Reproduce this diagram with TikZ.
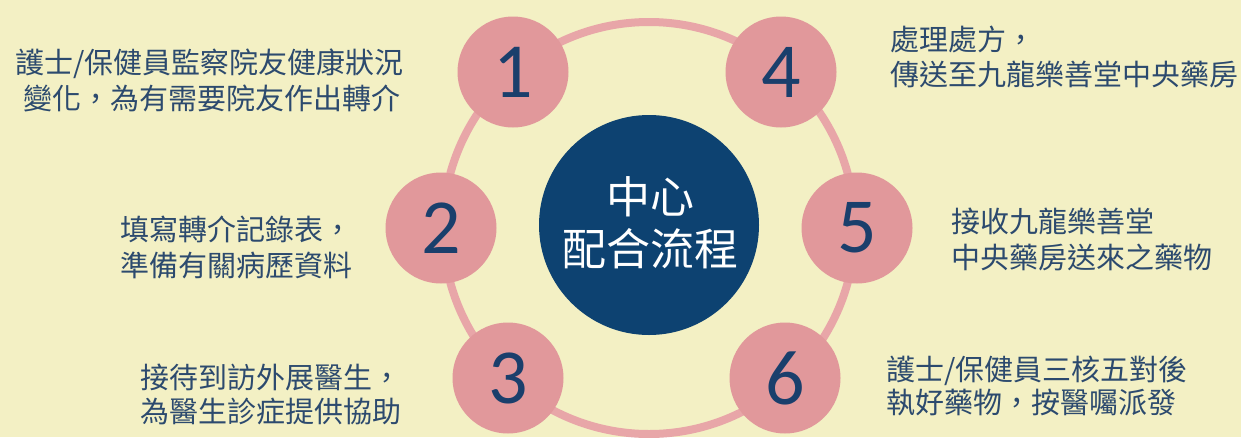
\documentclass[tikz,border=0pt]{standalone}
\usepackage{fontspec}
\newfontfamily\cjk{Noto Sans CJK TC}
\newfontfamily\numfont{Carlito}
\definecolor{bgc}{HTML}{F3F0C4}
\definecolor{pinkc}{HTML}{E1989B}
\definecolor{ringc}{HTML}{E8A6A8}
\definecolor{navyc}{HTML}{0D4271}
\definecolor{txtc}{HTML}{2C4A6E}
\definecolor{numc}{HTML}{1A3F6C}
\tikzset{
  stepcirc/.style={circle,fill=pinkc,minimum size=111pt,inner sep=0pt,text=numc,font=\numfont\fontsize{78}{80}\selectfont},
  centercirc/.style={circle,fill=navyc,minimum size=220pt,inner sep=0pt},
  ctext/.style={anchor=base,text=white,inner sep=0pt,font=\cjk\fontsize{44}{50}\selectfont},
  btext/.style={anchor=base west,text=txtc,inner sep=0pt,font=\cjk\fontsize{29}{36}\selectfont}
}
\begin{document}
\begin{tikzpicture}[x=1pt,y=-1pt]
\fill[bgc] (0,0) rectangle (1241,437);
\useasboundingbox (0,0) rectangle (1241,437);
\coordinate (o) at (649,228);
\draw[ringc,line width=8pt] (o) circle (206pt);
\node[centercirc] (c) at (649,225) {};
\node[ctext] (c1) at (650,213) {中心};
\node[ctext] (c2) at (650,265) {配合流程};
\node[stepcirc] (n1) at (513,72) {1};
\node[stepcirc] (n4) at (781,72) {4};
\node[stepcirc] (n2) at (441,228) {2};
\node[stepcirc] (n5) at (857,228) {5};
\node[stepcirc] (n3) at (508,378) {3};
\node[stepcirc] (n6) at (785,378) {6};
\node[btext] (t1a) at (15,73) {護士/保健員監察院友健康狀況};
\node[btext] (t1b) at (23,109) {變化，為有需要院友作出轉介};
\node[btext] (t4a) at (890,50) {處理處方，};
\node[btext] (t4b) at (890,85) {傳送至九龍樂善堂中央藥房};
\node[btext] (t2a) at (120,240) {填寫轉介記錄表，};
\node[btext] (t2b) at (120,276) {準備有關病歷資料};
\node[btext] (t5a) at (951,232) {接收九龍樂善堂};
\node[btext] (t5b) at (951,268) {中央藥房送來之藥物};
\node[btext] (t3a) at (140,388) {接待到訪外展醫生，};
\node[btext] (t3b) at (140,422) {為醫生診症提供協助};
\node[btext] (t6a) at (886,380) {護士/保健員三核五對後};
\node[btext] (t6b) at (886,413) {執好藥物，按醫囑派發};
\end{tikzpicture}
\end{document}
